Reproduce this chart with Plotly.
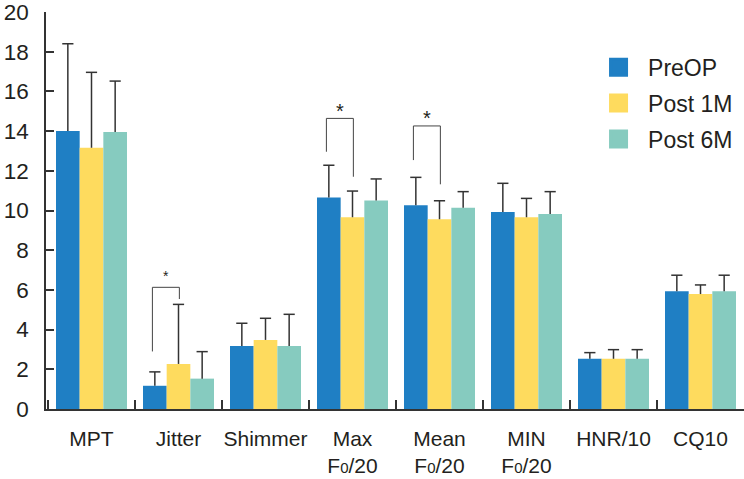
import plotly.graph_objects as go

categories = ["MPT", "Jitter", "Shimmer", "Max F0/20", "Mean F0/20", "MIN F0/20", "HNR/10", "CQ10"]
SUB0 = "F<span style='font-size:15px'>0</span>/20"
tick_labels = ["MPT", "Jitter", "Shimmer", "Max<br>" + SUB0, "Mean<br>" + SUB0,
               "MIN<br>" + SUB0, "HNR/10", "CQ10"]
series_names = ["PreOP", "Post 1M", "Post 6M"]

preop = [14.0, 1.17, 3.17, 10.65, 10.26, 9.92, 2.53, 5.93]
post1m = [13.16, 2.27, 3.48, 9.66, 9.56, 9.66, 2.53, 5.79]
post6m = [13.95, 1.53, 3.17, 10.51, 10.14, 9.82, 2.53, 5.93]

preop_sd = [4.4, 0.7, 1.15, 1.63, 1.41, 1.45, 0.31, 0.81]
post1m_sd = [3.8, 3.0, 1.09, 1.32, 0.93, 0.95, 0.46, 0.46]
post6m_sd = [2.57, 1.36, 1.6, 1.08, 0.81, 1.13, 0.46, 0.81]

y_ticks = [0, 2, 4, 6, 8, 10, 12, 14, 16, 18, 20]

# significance brackets: category index, left-leg bottom, top, right-leg bottom, star y
sig_category = [1, 3, 4]
sig_left_bottom = [2.9, 12.96, 12.54]
sig_top = [6.13, 14.64, 14.26]
sig_right_bottom = [5.54, 11.7, 11.32]
sig_star_y = [6.7, 15.0, 14.65]
sig_star_size = [14, 20, 20]

colors = ["#1f7fc4", "#fedb5e", "#86cbbf"]
TEXT = "#231f20"
AXIS = "#333333"
FONT = "Liberation Sans, Arial, sans-serif"
GAP = 0.184

fig = go.Figure()
for name, vals, sd, col in zip(series_names, [preop, post1m, post6m],
                               [preop_sd, post1m_sd, post6m_sd], colors):
    fig.add_trace(go.Bar(
        x=categories, y=vals, name=name, marker_color=col, marker_line_width=0,
        showlegend=False, offsetgroup=name,
        error_y=dict(type="data", array=sd, arrayminus=[0] * len(sd), symmetric=False,
                     color=AXIS, thickness=1.5, width=0),
    ))
# caps on top of the error bars
for name, vals, sd in zip(series_names, [preop, post1m, post6m],
                          [preop_sd, post1m_sd, post6m_sd]):
    fig.add_trace(go.Scatter(
        x=categories, y=[v + s for v, s in zip(vals, sd)], mode="markers",
        offsetgroup=name, showlegend=False, hoverinfo="skip",
        marker=dict(symbol="line-ew", size=8, line=dict(color=AXIS, width=1.5)),
    ))
for name, col in zip(series_names, colors):
    fig.add_trace(go.Scatter(
        x=[None], y=[None], mode="markers", name=name, legendgroup=name,
        marker=dict(symbol="square", size=16, color=col, line=dict(color=col, width=3)),
    ))

shapes = []
annotations = []
for c, lb, top, rb, sy, ss in zip(sig_category, sig_left_bottom, sig_top, sig_right_bottom,
                                  sig_star_y, sig_star_size):
    xl = c - 0.30
    xr = c + 0.01
    line = dict(color="#444444", width=1)
    shapes.append(dict(type="line", xref="x", yref="y", x0=xl, x1=xl, y0=lb, y1=top, line=line))
    shapes.append(dict(type="line", xref="x", yref="y", x0=xl, x1=xr, y0=top, y1=top, line=line))
    shapes.append(dict(type="line", xref="x", yref="y", x0=xr, x1=xr, y0=top, y1=rb, line=line))
    annotations.append(dict(x=(xl + xr) / 2, y=sy, xref="x", yref="y", text="*", showarrow=False,
                            font=dict(size=ss, color=TEXT, family=FONT), yanchor="middle"))

fig.update_layout(
    width=744, height=479, autosize=False,
    margin=dict(l=46, r=0, t=12, b=70),
    plot_bgcolor="white", paper_bgcolor="white",
    barmode="group", bargap=GAP, bargroupgap=0,
    scattermode="group", scattergap=GAP,
    font=dict(family=FONT, color=TEXT, size=22),
    shapes=shapes, annotations=annotations,
    legend=dict(x=0.778, y=0.915, xanchor="left", yanchor="top", bgcolor="rgba(0,0,0,0)",
                font=dict(size=23, color=TEXT, family=FONT), tracegroupgap=3,
                itemwidth=49),
)
fig.update_xaxes(
    type="category", categoryorder="array", categoryarray=categories,
    tickmode="array", tickvals=categories, ticktext=tick_labels, tickangle=0,
    range=[-0.523, 7.5], showline=True, linecolor=AXIS, linewidth=1.5,
    ticks="inside", tickson="boundaries", ticklen=9, tickwidth=1.5, tickcolor=AXIS,
    showgrid=False, zeroline=False, tickfont=dict(size=21, color=TEXT, family=FONT),
    ticklabelstandoff=10, automargin=False, ticklabeloverflow="allow",
)
fig.update_yaxes(
    range=[0, 20], tickvals=y_ticks, showline=True, linecolor=AXIS, linewidth=1.5,
    ticks="inside", ticklen=8, tickwidth=1.5, tickcolor=AXIS,
    showgrid=False, zeroline=False, tickfont=dict(size=22.5, color=TEXT, family=FONT),
    ticklabelstandoff=11, automargin=False, ticklabeloverflow="allow",
)

fig.write_html("out.html", post_script="document.body.style.margin='0';",
               config={"displayModeBar": False})
